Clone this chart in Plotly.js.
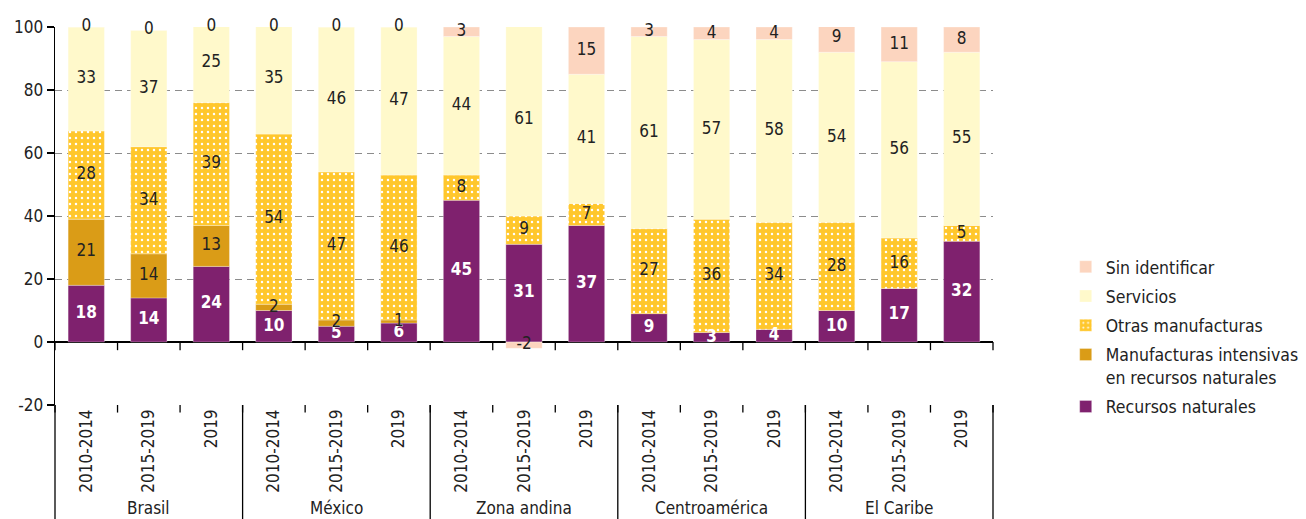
<!DOCTYPE html>
<html>
<head>
<meta charset="utf-8">
<script src="https://cdn.plot.ly/plotly-3.0.1.min.js"></script>
<style>
  html, body { margin: 0; padding: 0; background: #fff; }
  #chart { width: 1306px; height: 519px; }
</style>
</head>
<body>
<div id="chart"></div>
<script>
// ---------- DATA ----------
const groups = ['Brasil', 'México', 'Zona andina', 'Centroamérica', 'El Caribe'];
const periods = ['2010-2014', '2015-2019', '2019'];

const recursosNaturales   = [18, 14, 24, 10, 5, 6, 45, 31, 37, 9, 3, 4, 10, 17, 32];
const manufIntensivas     = [21, 14, 13, 2, 2, 1, null, null, null, null, null, null, null, null, null];
const otrasManufacturas   = [28, 34, 39, 54, 47, 46, 8, 9, 7, 27, 36, 34, 28, 16, 5];
const servicios           = [33, 37, 25, 35, 46, 47, 44, 61, 41, 61, 57, 58, 54, 56, 55];
const sinIdentificar      = [0, 0, 0, 0, 0, 0, 3, -2, 15, 3, 4, 4, 9, 11, 8];

const yTicks = [-20, 0, 20, 40, 60, 80, 100];
const yTickText = ['-20', '0', '20', '40', '60', '80', '100'];

// ---------- BUILD ----------
const FONT = 'Liberation Sans Narrow, DejaVu Sans Condensed, Arial Narrow, sans-serif';
const nPer = periods.length;
const N = groups.length * nPer;
const yMax = 100, yMin = -20;
const xIdx = [];
const tickText = [];
for (let g = 0; g < groups.length; g++) {
  for (let p = 0; p < nPer; p++) { xIdx.push(g * nPer + p); tickText.push(periods[p]); }
}

const series = [
  { name: 'Recursos naturales', data: recursosNaturales, color: '#7f216e', textColor: '#ffffff', bold: true },
  { name: 'Manufacturas intensivas<br>en recursos naturales', data: manufIntensivas, color: '#da9c17', textColor: '#222222' },
  { name: 'Otras manufacturas', data: otrasManufacturas, color: '#ffc72c', textColor: '#222222', pattern: true },
  { name: 'Servicios', data: servicios, color: '#fff9cb', textColor: '#222222' },
  { name: 'Sin identificar', data: sinIdentificar, color: '#fcd5bf', textColor: '#222222' }
];

const traces = [];
const posBase = new Array(N).fill(0);
const negBase = new Array(N).fill(0);
const labelTraces = [];

series.forEach((s, k) => {
  const marker = { color: s.color, line: { color: 'rgba(255,255,255,0.6)', width: 0.5 } };
  if (s.pattern) {
    marker.pattern = { shape: '.', fgcolor: '#ffffff', bgcolor: s.color, size: 6, solidity: 0.13, fillmode: 'replace' };
  }
  traces.push({
    type: 'bar', name: s.name, x: xIdx, y: s.data, marker: marker,
    legendgroup: 'g' + k, legendrank: series.length - k,
    hoverinfo: 'skip', textposition: 'none'
  });
  const lx = [], ly = [], lt = [];
  s.data.forEach((v, i) => {
    if (v === null || v === undefined) return;
    let mid;
    if (v >= 0) { mid = posBase[i] + v / 2; posBase[i] += v; }
    else { mid = negBase[i] + v / 2; negBase[i] += v; }
    lx.push(xIdx[i]); ly.push(Math.min(mid, yMax)); lt.push(String(v));
  });
  labelTraces.push({
    type: 'scatter', mode: 'text', x: lx, y: ly, text: lt,
    textposition: 'middle center', cliponaxis: false, showlegend: false, hoverinfo: 'skip',
    textfont: { family: FONT, size: 17, color: s.textColor, weight: s.bold ? 'bold' : 'normal' }
  });
});

// ---------- SHAPES ----------
const shapes = [];
const toPaperX = b => (b + 0.5) / N;  // boundary index -> paper x
for (let b = -0.5; b <= N - 0.5 + 1e-9; b += 1) {
  shapes.push({ type: 'line', xref: 'paper', yref: 'y', x0: toPaperX(b), x1: toPaperX(b), y0: 0, y1: -2.6,
    line: { color: '#000', width: 1.3 } });
  shapes.push({ type: 'line', xref: 'paper', yref: 'paper', x0: toPaperX(b), x1: toPaperX(b), y0: 0, y1: -0.02,
    line: { color: '#000', width: 1.3 } });
}
for (let g = 0; g <= groups.length; g++) {
  const b = g * nPer - 0.5;
  shapes.push({ type: 'line', xref: 'paper', yref: 'paper', x0: toPaperX(b), x1: toPaperX(b), y0: 0, y1: -0.31,
    line: { color: '#000', width: 1.3 } });
}

// ---------- ANNOTATIONS ----------
const annotations = groups.map((g, k) => ({
  xref: 'x', yref: 'paper', x: k * nPer + (nPer - 1) / 2, y: -0.272,
  text: g, showarrow: false, yanchor: 'middle', xanchor: 'center',
  font: { family: FONT, size: 17, color: '#222' }
}));

const layout = {
  width: 1306, height: 519,
  margin: { l: 55, r: 313, t: 27, b: 114, autoexpand: false },
  paper_bgcolor: '#fff', plot_bgcolor: '#fff',
  barmode: 'relative', bargap: 0.42,
  showlegend: true,
  legend: {
    x: 1.0775, xanchor: 'left', y: 0.413, yanchor: 'top',
    font: { family: FONT, size: 17.5, color: '#222' },
    valign: 'top', tracegroupgap: 3.5, itemwidth: 30,
    bgcolor: 'rgba(0,0,0,0)', traceorder: 'grouped'
  },
  font: { family: FONT, size: 17, color: '#222' },
  xaxis: {
    range: [-0.5, N - 0.5], tickmode: 'array', tickvals: xIdx, ticktext: tickText,
    tickangle: -90, ticks: '', showgrid: false, zeroline: false, showline: false,
    tickfont: { family: FONT, size: 17, color: '#222' }, fixedrange: true
  },
  yaxis: {
    range: [yMin, yMax], tickmode: 'array', tickvals: yTicks, ticktext: yTickText,
    showgrid: true, gridcolor: '#8c8c8c', griddash: '7px,5px', gridwidth: 1,
    zeroline: true, zerolinecolor: '#000', zerolinewidth: 1.5,
    showline: true, linecolor: '#000', linewidth: 1.3,
    ticks: 'outside', ticklen: 7, tickcolor: '#000', tickwidth: 1.3,
    tickfont: { family: FONT, size: 17, color: '#222' }, fixedrange: true
  },
  shapes: shapes,
  annotations: annotations
};

Plotly.newPlot('chart', traces.concat(labelTraces), layout, { displayModeBar: false, staticPlot: true });
</script>
</body>
</html>
